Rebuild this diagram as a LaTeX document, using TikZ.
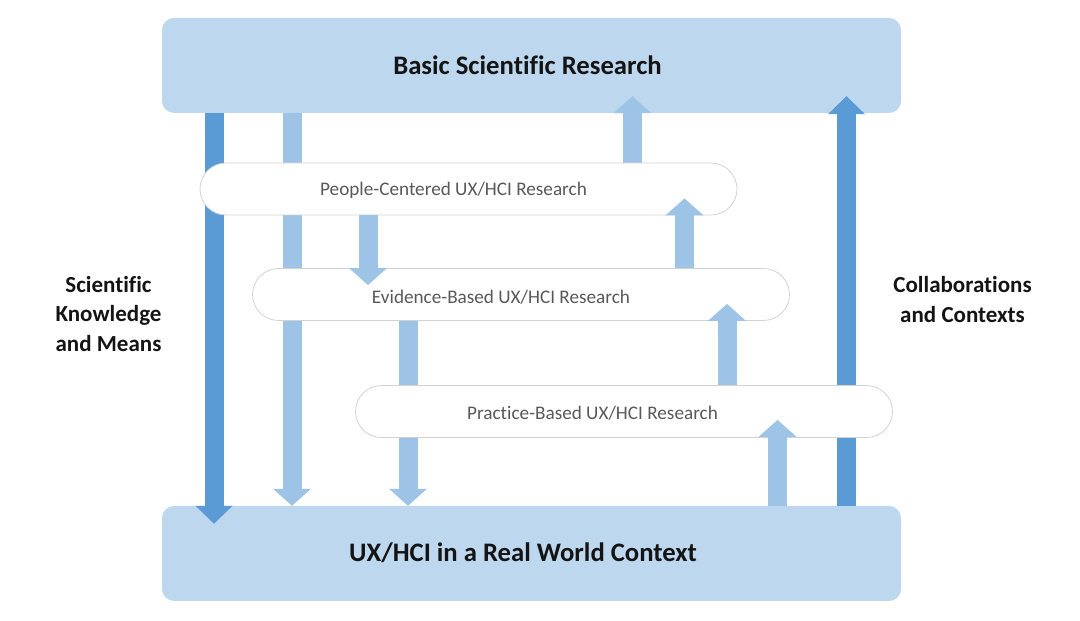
\documentclass[tikz,border=0pt]{standalone}
\usepackage{fontspec}
\setmainfont{Carlito}[Ligatures=NoCommon]
\usetikzlibrary{arrows.meta}
\definecolor{boxblue}{RGB}{189,215,238}
\definecolor{darkblue}{RGB}{91,155,213}
\definecolor{lightblue}{RGB}{157,195,230}
\definecolor{pillgray}{RGB}{210,210,210}
\definecolor{pilltext}{RGB}{89,89,89}
\begin{document}
\begin{tikzpicture}[x=1pt,y=1pt,
  bigbox/.style={draw=none,fill=boxblue,rounded corners=12pt,minimum width=739pt,minimum height=95pt,inner sep=0pt},
  bigtext/.style={font=\fontsize{26.7}{32}\selectfont\bfseries,text=black!92},
  pill/.style={draw=pillgray,line width=0.8pt,fill=white,rounded corners=26pt,minimum width=537pt,minimum height=52pt,inner sep=0pt},
  pilllabel/.style={font=\fontsize{19.2}{23}\selectfont,text=pilltext,inner sep=0pt},
  sidelabel/.style={font=\fontsize{23}{29.5}\selectfont\bfseries,text=black!92,align=center,inner sep=0pt},
  darkarrow/.style={draw=darkblue,line width=19pt,-{Triangle[width=36pt,length=18pt]}},
  lightarrow/.style={draw=lightblue,line width=19pt,-{Triangle[width=37pt,length=17pt]}},
  into/.style={shorten >=-17pt}
]
\useasboundingbox (0,0) rectangle (1080,621);
% main boxes
\node[bigbox] (top) at (531.5,555.5) {};
\node[bigbox] (bottom) at (531.5,67.5) {};
\node[bigtext] (toptext) at (527.5,556) {Basic Scientific Research};
\node[bigtext] (bottomtext) at (523,68) {UX/HCI in a Real World Context};
% column coordinates
\coordinate (cA) at (214,0);
\coordinate (cB) at (292,0);
\coordinate (cC) at (408,0);
\coordinate (cD) at (632.5,0);
\coordinate (cE) at (846.5,0);
\coordinate (cF) at (368,0);
\coordinate (cG) at (684.5,0);
\coordinate (cH) at (727,0);
\coordinate (cI) at (777.5,0);
% pill edges (pills drawn later)
\coordinate (p1n) at (0,458);
\coordinate (p2s) at (0,300.5);
% arrows behind the pills
\draw[darkarrow,shorten >=-18pt] (top.south -| cA) -- (bottom.north -| cA);
\draw[lightarrow] (top.south -| cB) -- (bottom.north -| cB);
\draw[darkarrow,into] (bottom.north -| cE) -- (top.south -| cE);
\draw[lightarrow] (cC |- p2s) -- (bottom.north -| cC);
\draw[lightarrow,into] (cD |- p1n) -- (top.south -| cD);
% pills
\node[pill] (pill1) at (468.5,432) {};
\node[pill] (pill2) at (521,326.5) {};
\node[pill] (pill3) at (624,209.5) {};
\node[pilllabel] (t1) at (453.5,431) {People-Centered UX/HCI Research};
\node[pilllabel] (t2) at (501,324) {Evidence-Based UX/HCI Research};
\node[pilllabel] (t3) at (592.5,208) {Practice-Based UX/HCI Research};
% arrows over the pills
\draw[lightarrow,into] (pill1.south -| cF) -- (pill2.north -| cF);
\draw[lightarrow,into] (pill2.north -| cG) -- (pill1.south -| cG);
\draw[lightarrow,into] (pill3.north -| cH) -- (pill2.south -| cH);
\draw[lightarrow,shorten >=-18pt] (bottom.north -| cI) -- (pill3.south -| cI);
% side labels
\node[sidelabel] (left) at (108.5,307) {Scientific\\Knowledge\\and Means};
\node[sidelabel] (right) at (962.5,321.5) {Collaborations\\and Contexts};
\end{tikzpicture}
\end{document}
